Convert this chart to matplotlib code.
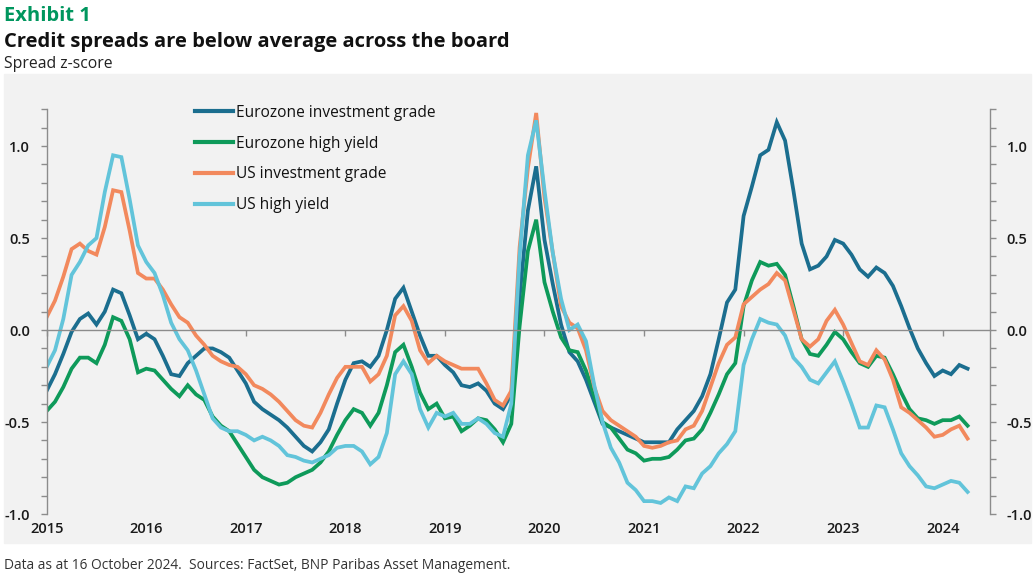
import matplotlib.pyplot as plt
import numpy as np
from matplotlib.patches import Rectangle
from matplotlib.ticker import MultipleLocator, FixedLocator, FixedFormatter

plt.rcParams['font.family'] = ['Open Sans', 'DejaVu Sans']

# monthly z-scores, Jan 2015 onwards
ez_ig = [-0.33, -0.24, -0.13, -0.01, 0.06, 0.09, 0.03, 0.10, 0.22, 0.20, 0.08, -0.05,
         -0.02, -0.05, -0.14, -0.24, -0.25, -0.18, -0.14, -0.10, -0.10, -0.12, -0.15, -0.22,
         -0.29, -0.39, -0.43, -0.46, -0.49, -0.53, -0.58, -0.63, -0.66, -0.61, -0.54, -0.40,
         -0.27, -0.18, -0.17, -0.20, -0.14, 0.00, 0.17, 0.23, 0.10, -0.03, -0.14, -0.14,
         -0.19, -0.23, -0.30, -0.31, -0.29, -0.33, -0.40, -0.43, -0.35, 0.18, 0.65, 0.89,
         0.49, 0.25, 0.03, -0.12, -0.17, -0.27, -0.39, -0.51, -0.53, -0.55, -0.57, -0.59,
         -0.61, -0.61, -0.61, -0.61, -0.54, -0.49, -0.44, -0.36, -0.24, -0.05, 0.15, 0.22,
         0.62, 0.78, 0.95, 0.98, 1.13, 1.03, 0.76, 0.47, 0.33, 0.35, 0.40, 0.49,
         0.47, 0.41, 0.33, 0.29, 0.34, 0.31, 0.24, 0.13, 0.01, -0.10, -0.18, -0.25,
         -0.22, -0.24, -0.19, -0.21]
ez_hy = [-0.44, -0.39, -0.31, -0.21, -0.15, -0.15, -0.18, -0.08, 0.07, 0.05, -0.05, -0.23,
         -0.21, -0.22, -0.27, -0.32, -0.36, -0.30, -0.35, -0.38, -0.47, -0.52, -0.55, -0.62,
         -0.69, -0.76, -0.80, -0.82, -0.84, -0.83, -0.80, -0.78, -0.76, -0.72, -0.66, -0.57,
         -0.49, -0.43, -0.45, -0.52, -0.45, -0.30, -0.12, -0.08, -0.20, -0.34, -0.43, -0.40,
         -0.48, -0.47, -0.55, -0.52, -0.48, -0.49, -0.54, -0.61, -0.51, 0.02, 0.43, 0.60,
         0.26, 0.10, -0.04, -0.11, -0.12, -0.22, -0.36, -0.50, -0.53, -0.59, -0.65, -0.67,
         -0.71, -0.70, -0.70, -0.69, -0.65, -0.60, -0.59, -0.54, -0.45, -0.35, -0.24, -0.18,
         0.13, 0.27, 0.37, 0.35, 0.36, 0.30, 0.13, -0.05, -0.13, -0.14, -0.08, -0.01,
         -0.05, -0.12, -0.18, -0.20, -0.14, -0.15, -0.24, -0.34, -0.43, -0.48, -0.49, -0.51,
         -0.49, -0.49, -0.47, -0.52]
us_ig = [0.07, 0.16, 0.29, 0.44, 0.47, 0.43, 0.41, 0.56, 0.76, 0.75, 0.54, 0.31,
         0.28, 0.28, 0.22, 0.14, 0.07, 0.04, -0.03, -0.08, -0.14, -0.17, -0.19, -0.20,
         -0.24, -0.30, -0.32, -0.35, -0.39, -0.44, -0.49, -0.52, -0.53, -0.45, -0.35, -0.26,
         -0.20, -0.20, -0.20, -0.28, -0.24, -0.14, 0.08, 0.13, 0.05, -0.11, -0.18, -0.14,
         -0.17, -0.19, -0.21, -0.21, -0.21, -0.29, -0.38, -0.41, -0.33, 0.45, 0.88, 1.18,
         0.72, 0.42, 0.13, 0.04, 0.01, -0.11, -0.31, -0.44, -0.49, -0.52, -0.55, -0.58,
         -0.63, -0.64, -0.63, -0.61, -0.60, -0.54, -0.52, -0.44, -0.31, -0.18, -0.08, -0.04,
         0.14, 0.18, 0.22, 0.25, 0.31, 0.27, 0.11, -0.05, -0.09, -0.05, 0.05, 0.11,
         0.03, -0.07, -0.17, -0.19, -0.11, -0.16, -0.27, -0.42, -0.45, -0.49, -0.53, -0.58,
         -0.57, -0.54, -0.52, -0.59]
us_hy = [-0.20, -0.11, 0.06, 0.30, 0.37, 0.46, 0.50, 0.75, 0.95, 0.94, 0.71, 0.46,
         0.37, 0.31, 0.19, 0.04, -0.05, -0.11, -0.22, -0.35, -0.48, -0.53, -0.55, -0.55,
         -0.57, -0.60, -0.58, -0.60, -0.63, -0.68, -0.69, -0.71, -0.72, -0.70, -0.68, -0.64,
         -0.63, -0.63, -0.66, -0.73, -0.69, -0.56, -0.24, -0.17, -0.24, -0.43, -0.53, -0.45,
         -0.47, -0.45, -0.51, -0.51, -0.48, -0.51, -0.56, -0.58, -0.40, 0.40, 0.95, 1.14,
         0.76, 0.42, 0.17, 0.00, 0.03, -0.06, -0.30, -0.50, -0.64, -0.72, -0.83, -0.87,
         -0.93, -0.93, -0.94, -0.91, -0.93, -0.85, -0.86, -0.78, -0.74, -0.67, -0.62, -0.55,
         -0.19, -0.05, 0.06, 0.04, 0.03, -0.03, -0.15, -0.20, -0.27, -0.29, -0.23, -0.17,
         -0.28, -0.40, -0.53, -0.53, -0.41, -0.42, -0.54, -0.67, -0.74, -0.79, -0.85, -0.86,
         -0.84, -0.82, -0.83, -0.88]

labels = ['Eurozone investment grade', 'Eurozone high yield', 'US investment grade', 'US high yield']
colors = ['#1b6e8f', '#0e9a5a', '#f2895d', '#62c4da']
years = list(range(2015, 2025))
dates = 2015 + np.arange(len(ez_ig)) / 12

W, H = 1036, 580
fig = plt.figure(figsize=(W / 100, H / 100), dpi=100)
fig.patches.append(Rectangle((4 / W, 1 - 543 / H), 1027 / W, 469 / H,
                             transform=fig.transFigure, color='#f2f2f2', zorder=-10))

ax = fig.add_axes([46.7 / W, 1 - 514 / H, (990 - 46.7) / W, (514 - 109.3) / H])
ax.set_facecolor('none')

for s, lab, c in zip([ez_ig, ez_hy, us_ig, us_hy], labels, colors):
    ax.plot(dates, s, color=c, lw=2.7, label=lab, solid_joinstyle='miter')

ax.set_xlim(2015, 2024.475)
ax.set_ylim(-1.0, 1.2)

grey = '#8c8c8c'
ax.spines['top'].set_visible(False)
for side in ['left', 'right', 'bottom']:
    ax.spines[side].set_color(grey)
    ax.spines[side].set_linewidth(1.0)
ax.spines['bottom'].set_position(('data', 0))

ax.xaxis.set_major_locator(FixedLocator(years))
ax.tick_params(axis='x', length=4, width=1, color=grey, labelbottom=False)

yt = [-1.0, -0.5, 0.0, 0.5, 1.0]
ax.yaxis.set_major_locator(FixedLocator(yt))
ax.yaxis.set_major_formatter(FixedFormatter(['-1.0', '-0.5', '0.0', '0.5', '1.0']))
ax.yaxis.set_minor_locator(MultipleLocator(0.1))
ax.tick_params(axis='y', which='both', length=4, width=1, color=grey,
               left=True, right=True, labelleft=True, labelright=True, pad=8,
               labelsize=10.5, labelcolor='#1a1a1a')
for tk in ax.yaxis.get_major_ticks():
    tk.label1.set_fontweight('semibold')
    tk.label2.set_fontweight('semibold')

sec = ax.secondary_xaxis('bottom')
sec.set_xticks(years)
sec.set_xticklabels([str(y) for y in years], fontsize=10.5, fontweight='semibold', color='#1a1a1a')
sec.tick_params(length=0, pad=6)
sec.spines['bottom'].set_visible(False)

leg = ax.legend(loc='upper left', bbox_to_anchor=((189 - 46.7) / (990 - 46.7), 1.027),
                frameon=False, fontsize=11.2, handlelength=2.45, handletextpad=0.2,
                labelspacing=0.96, borderaxespad=0)
for t in leg.get_texts():
    t.set_color('#111111')
for h in leg.get_lines():
    h.set_linewidth(3)

fig.text(4 / W, 1 - 21 / H, 'Exhibit 1', fontsize=14.5, fontweight='bold', color='#00965e')
fig.text(4 / W, 1 - 47 / H, 'Credit spreads are below average across the board',
         fontsize=14.5, fontweight='bold', color='#111111')
fig.text(4 / W, 1 - 68 / H, 'Spread z-score', fontsize=11.3, color='#222222')
fig.text(4 / W, 1 - 569 / H, 'Data as at 16 October 2024.  Sources: FactSet, BNP Paribas Asset Management.',
         fontsize=9.9, color='#333333')

fig.savefig('out.png', dpi=100)
